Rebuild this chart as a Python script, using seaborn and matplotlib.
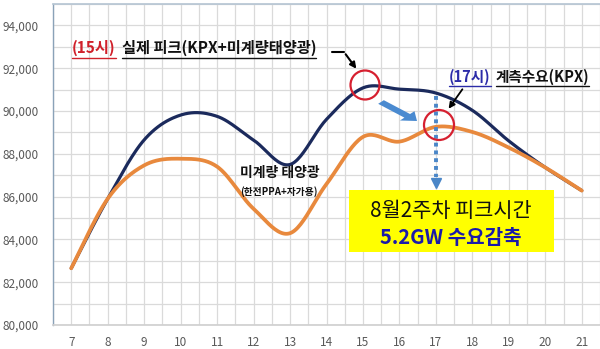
import numpy as np
import pandas as pd
import matplotlib
matplotlib.use("Agg")
import matplotlib.pyplot as plt
from matplotlib.lines import Line2D
from matplotlib.patches import Ellipse, FancyArrow, Rectangle, FancyArrowPatch
import seaborn as sns

sns.set_theme(style="white")
plt.rcParams['font.family'] = ['Noto Sans CJK KR', 'DejaVu Sans']

hours = [7, 8, 9, 10, 11, 12, 13, 14, 15, 16, 17, 18, 19, 20, 21]
total_demand = [82650, 85900, 88650, 89810, 89750, 88640, 87500, 89610, 91080, 91020, 90840, 90030, 88600, 87360, 86280]
measured_kpx = [82650, 85900, 87460, 87770, 87400, 85430, 84290, 86590, 88790, 88570, 89260, 89020, 88290, 87360, 86280]
y_ticks = [80000, 82000, 84000, 86000, 88000, 90000, 92000, 94000]


def smooth(x, y, n=24):
    x = np.asarray(x, float); y = np.asarray(y, float)
    P = np.column_stack([x, y])
    P = np.vstack([P[0], P, P[-1]])
    out = []
    for i in range(1, len(P) - 2):
        p0, p1, p2, p3 = P[i - 1], P[i], P[i + 1], P[i + 2]
        t = np.linspace(0, 1, n, endpoint=False)[:, None]
        c = 0.5 * ((2 * p1) + (-p0 + p2) * t + (2 * p0 - 5 * p1 + 4 * p2 - p3) * t ** 2
                   + (-p0 + 3 * p1 - 3 * p2 + p3) * t ** 3)
        out.append(c)
    out.append(P[-2][None, :])
    c = np.vstack(out)
    return c[:, 0], c[:, 1]


sx, sy1 = smooth(hours, total_demand)
_, sy2 = smooth(hours, measured_kpx)
df1 = pd.DataFrame({"hour": sx, "value": sy1})
df2 = pd.DataFrame({"hour": sx, "value": sy2})

W, H = 600, 349
fig = plt.figure(figsize=(6, 3.49), dpi=100, facecolor="white")
ax = fig.add_axes([53 / W, 1 - 325 / H, 1 - 53 / W, (325 - 4) / H])

ax.set_xlim(6.5, 21.5)
ax.set_ylim(80000, 95000)
ax.set_xticks(hours)
ax.set_xticks(np.arange(6.5, 21.6, 0.5), minor=True)
ax.set_yticks(y_ticks)
ax.set_yticks(np.arange(80000, 95001, 1000), minor=True)
ax.grid(True, which="both", color="#DADADA", linewidth=0.9)
ax.set_axisbelow(True)

sns.lineplot(data=df1, x="hour", y="value", ax=ax, color="#1B2A5C", linewidth=2.3, sort=False, estimator=None)
sns.lineplot(data=df2, x="hour", y="value", ax=ax, color="#E8893D", linewidth=2.7, sort=False, estimator=None)

ax.set_xlabel("")
ax.set_ylabel("")
ax.set_yticklabels([f"{v:,}" for v in y_ticks])
ax.tick_params(axis="both", which="both", length=0, labelsize=8.5, labelcolor="#595959")
ax.tick_params(axis="y", pad=10)
ax.tick_params(axis="x", pad=8)
ax.spines["left"].set_color("#8AA2B8"); ax.spines["left"].set_linewidth(1.0)
ax.spines["bottom"].set_color("#D0D0D0")
ax.spines["top"].set_color("#B7C6D4")
ax.spines["right"].set_visible(False)


def fx(x):
    return x / W


def fy(y):
    return 1 - y / H


def fline(xs, ys, **kw):
    fig.add_artist(Line2D([fx(v) for v in xs], [fy(v) for v in ys], transform=fig.transFigure, **kw))


fig.canvas.draw()
renderer = fig.canvas.get_renderer()


def text_run(x0, y, parts, underline_y, gap=5):
    x = x0
    for s, color, size in parts:
        t = fig.text(fx(x), fy(y), s, color=color, fontsize=size, fontweight="bold", va="center", ha="left")
        bb = t.get_window_extent(renderer)
        fline([x, x + bb.width], [underline_y, underline_y], color=color, linewidth=1)
        x = x + bb.width + gap


# annotation 1
text_run(72, 48, [("(15시)", "#D0202A", 11), ("실제 피크(KPX+미계량태양광)", "#111111", 11)], 58, gap=6)
fline([332, 344], [52, 52], color="black", linewidth=1.5)
fig.add_artist(FancyArrowPatch((fx(344), fy(52)), (fx(358), fy(71)), transform=fig.transFigure,
                               arrowstyle="-|>", mutation_scale=9, color="black", linewidth=1.5))

# annotation 2
text_run(449, 77, [("(17시)", "#2B2BA8", 10.5), ("계측수요(KPX)", "#111111", 10.5)], 86, gap=5)
fig.add_artist(FancyArrowPatch((fx(464), fy(87)), (fx(447), fy(111)), transform=fig.transFigure,
                               arrowstyle="-|>", mutation_scale=9, color="black", linewidth=1.3))

# red circles
for cx, cy, r in [(365, 85, 14.5), (439, 125, 15)]:
    fig.add_artist(Ellipse((fx(cx), fy(cy)), 2 * r / W, 2 * r / H, transform=fig.transFigure,
                           fill=False, edgecolor="#D62030", linewidth=1.6))

# blue fat arrow
fig.add_artist(FancyArrow(fx(381), fy(102), fx(417) - fx(381), fy(121) - fy(102), width=0.014,
                          head_width=0.036, head_length=0.022, length_includes_head=True,
                          transform=fig.transFigure, color="#4A8AD0", linewidth=0))

# dotted vertical arrow
ax.plot([17, 17], [90700, 86900], linestyle=(0, (1, 1)), color="#4A86C8", linewidth=2.8)
ax.plot([17], [86650], marker="v", markersize=7, color="#4A86C8", linestyle="none")

# yellow box
fig.add_artist(Rectangle((fx(349), fy(252)), (554 - 349) / W, (252 - 190) / H, transform=fig.transFigure,
                         facecolor="#FFFF00", edgecolor="none"))
fig.text(fx(451), fy(211), "8월2주차 피크시간", color="#111111", fontsize=15, ha="center", va="center")
fig.text(fx(451), fy(237), "5.2GW 수요감축", color="#1A1AAA", fontsize=14.5, fontweight="bold", ha="center", va="center")

# solar labels
fig.text(fx(240), fy(173), "미계량 태양광", color="#111111", fontsize=10, fontweight="bold", ha="left", va="center")
fig.text(fx(240), fy(192), "(한전PPA+자가용)", color="#111111", fontsize=7, fontweight="bold", ha="left", va="center")

fig.savefig("out.png", dpi=100, facecolor="white")
